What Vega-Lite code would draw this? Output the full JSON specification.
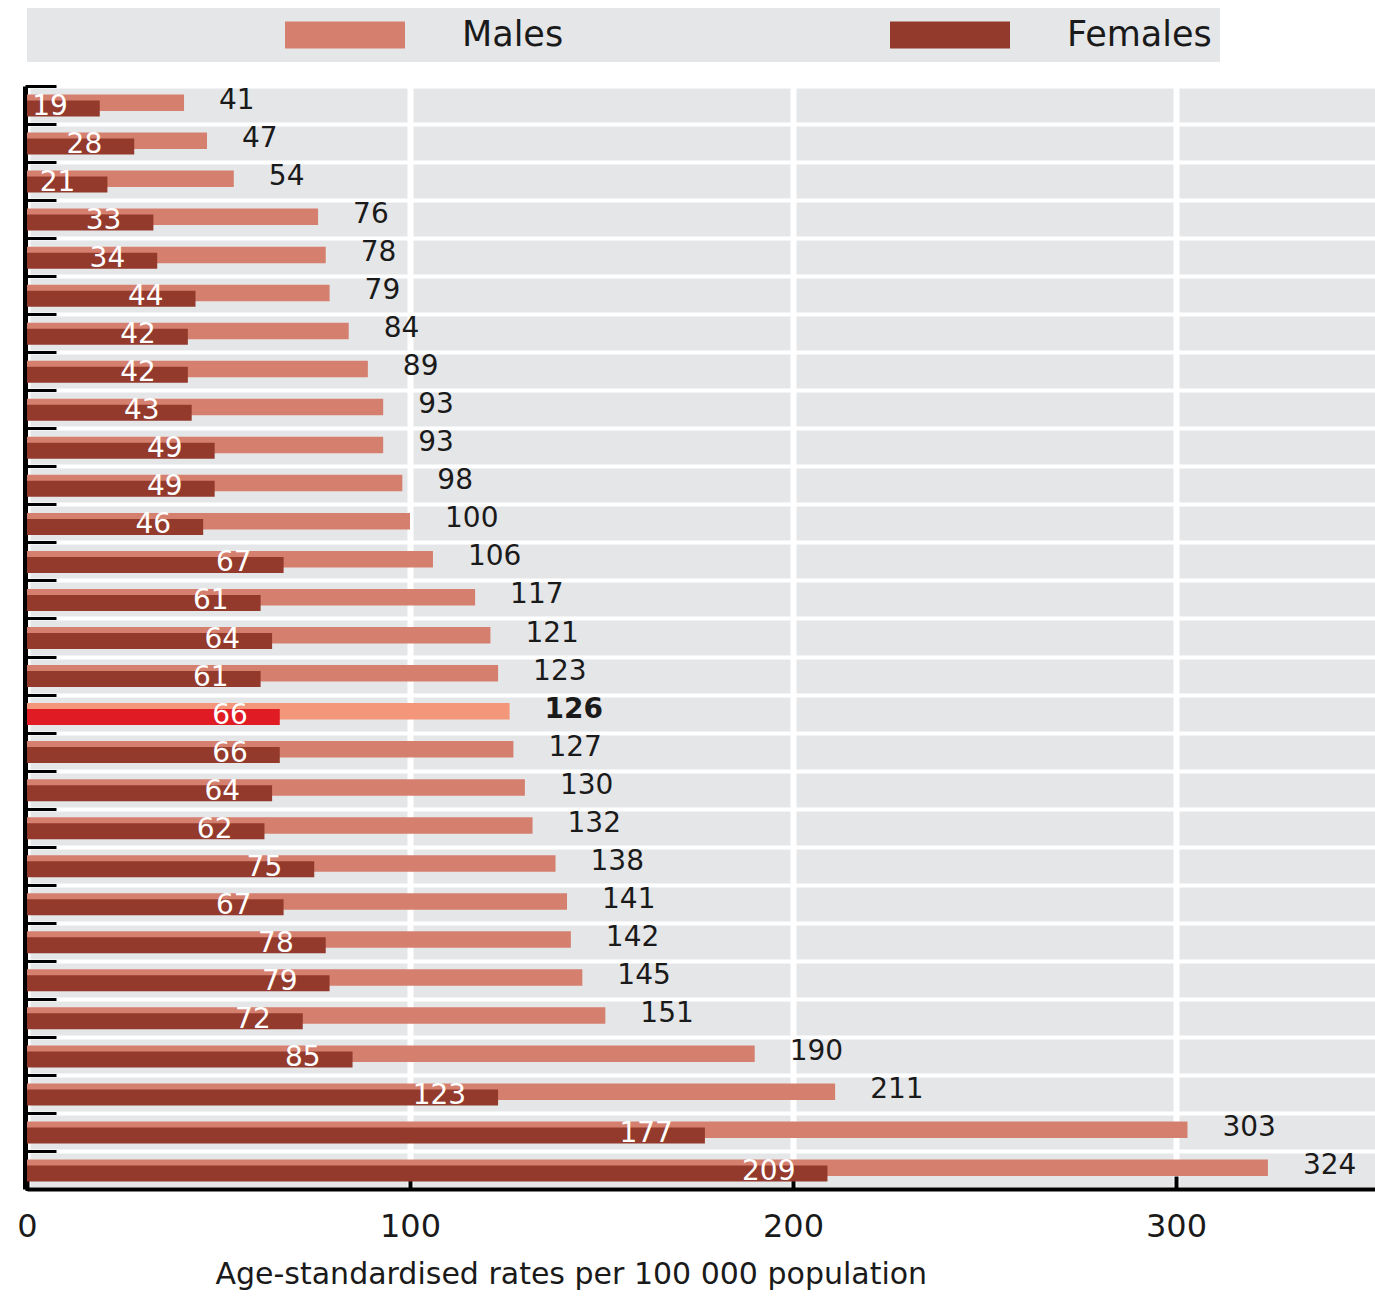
{
  "$schema": "https://vega.github.io/schema/vega-lite/v6.json",
  "width": 1348,
  "height": 1103,
  "autosize": {"type": "none"},
  "padding": {"left": 27, "top": 86, "right": 0, "bottom": 109},
  "background": "white",
  "config": {"view": {"stroke": null, "fill": "#e5e6e8"}, "font": "DejaVu Sans"},
  "data": {
    "values": [
      {"id": "01", "Males": 41, "Females": 19, "hl": false},
      {"id": "02", "Males": 47, "Females": 28, "hl": false},
      {"id": "03", "Males": 54, "Females": 21, "hl": false},
      {"id": "04", "Males": 76, "Females": 33, "hl": false},
      {"id": "05", "Males": 78, "Females": 34, "hl": false},
      {"id": "06", "Males": 79, "Females": 44, "hl": false},
      {"id": "07", "Males": 84, "Females": 42, "hl": false},
      {"id": "08", "Males": 89, "Females": 42, "hl": false},
      {"id": "09", "Males": 93, "Females": 43, "hl": false},
      {"id": "10", "Males": 93, "Females": 49, "hl": false},
      {"id": "11", "Males": 98, "Females": 49, "hl": false},
      {"id": "12", "Males": 100, "Females": 46, "hl": false},
      {"id": "13", "Males": 106, "Females": 67, "hl": false},
      {"id": "14", "Males": 117, "Females": 61, "hl": false},
      {"id": "15", "Males": 121, "Females": 64, "hl": false},
      {"id": "16", "Males": 123, "Females": 61, "hl": false},
      {"id": "17", "Males": 126, "Females": 66, "hl": true},
      {"id": "18", "Males": 127, "Females": 66, "hl": false},
      {"id": "19", "Males": 130, "Females": 64, "hl": false},
      {"id": "20", "Males": 132, "Females": 62, "hl": false},
      {"id": "21", "Males": 138, "Females": 75, "hl": false},
      {"id": "22", "Males": 141, "Females": 67, "hl": false},
      {"id": "23", "Males": 142, "Females": 78, "hl": false},
      {"id": "24", "Males": 145, "Females": 79, "hl": false},
      {"id": "25", "Males": 151, "Females": 72, "hl": false},
      {"id": "26", "Males": 190, "Females": 85, "hl": false},
      {"id": "27", "Males": 211, "Females": 123, "hl": false},
      {"id": "28", "Males": 303, "Females": 177, "hl": false},
      {"id": "29", "Males": 324, "Females": 209, "hl": false}
    ]
  },
  "transform": [{"fold": ["Males", "Females"], "as": ["sex", "rate"]}],
  "encoding": {
    "y": {
      "field": "id",
      "type": "nominal",
      "scale": {"paddingInner": 0, "paddingOuter": 0},
      "axis": {
        "title": null,
        "labels": false,
        "tickBand": "extent",
        "grid": true,
        "gridColor": "white",
        "gridWidth": 4,
        "tickColor": "black",
        "tickWidth": 3,
        "tickSize": -31,
        "domainColor": "black",
        "domainWidth": 5,
        "offset": 2
      }
    },
    "x": {
      "field": "rate",
      "type": "quantitative",
      "scale": {"domain": [0, 351.96], "nice": false, "zero": true},
      "axis": {
        "values": [0, 100, 200, 300],
        "grid": true,
        "gridColor": "white",
        "gridWidth": 6,
        "domainColor": "black",
        "domainWidth": 4,
        "tickColor": "black",
        "tickWidth": 4,
        "tickSize": -13,
        "labelFontSize": 32,
        "labelColor": "#1a1a1a",
        "labelBaseline": "alphabetic",
        "labelPadding": 60,
        "labelFlush": false,
        "title": "Age-standardised rates per 100 000 population",
        "titleFontSize": 30,
        "titleFontWeight": "normal",
        "titleColor": "#1a1a1a",
        "titleX": 188,
        "titleY": 94,
        "titleAlign": "left",
        "titleAnchor": "start",
        "titleBaseline": "alphabetic"
      }
    }
  },
  "layer": [
    {
      "transform": [{"filter": "datum.sex == 'Males'"}],
      "mark": {"type": "bar", "size": 16.5, "yOffset": -2.25},
      "encoding": {
        "color": {
          "condition": {"test": "datum.hl", "value": "#f4967a"},
          "field": "sex",
          "type": "nominal",
          "scale": {"domain": ["Males", "Females"], "range": ["#d5806f", "#933a2d"]},
          "legend": {
            "orient": "none",
            "legendX": 0,
            "legendY": -78,
            "direction": "horizontal",
            "title": null,
            "fillColor": "#e5e6e8",
            "padding": 8,
            "symbolType": "M-1,-0.225H1V0.225H-1Z",
            "symbolSize": 14400,
            "symbolStrokeWidth": 0,
            "symbolOpacity": 1,
            "symbolOffset": 250,
            "labelOffset": 57,
            "columnPadding": 76,
            "clipHeight": 38,
            "labelFontSize": 35,
            "labelColor": "#1a1a1a",
            "labelLimit": 600,
            "labelExpr": "datum.label == 'Females' ? datum.label + '\u00a0\u00a0\u00a0\u00a0\u00a0\u00a0\u00a0\u00a0\u00a0\u00a0\u00a0\u00a0\u00a0' : datum.label"
          }
        }
      }
    },
    {
      "transform": [{"filter": "datum.sex == 'Females'"}],
      "mark": {"type": "bar", "size": 16, "yOffset": 3.5},
      "encoding": {
        "color": {
          "condition": {"test": "datum.hl", "value": "#e01b24"},
          "field": "sex",
          "type": "nominal"
        }
      }
    },
    {
      "transform": [{"filter": "datum.sex == 'Males' && !datum.hl"}],
      "mark": {"type": "text", "align": "left", "baseline": "middle", "dx": 35, "dy": -4, "fontSize": 28, "color": "#1a1a1a"},
      "encoding": {"text": {"field": "rate", "type": "quantitative"}}
    },
    {
      "transform": [{"filter": "datum.sex == 'Males' && datum.hl"}],
      "mark": {"type": "text", "align": "left", "baseline": "middle", "dx": 35, "dy": -4, "fontSize": 28, "fontWeight": "bold", "color": "#1a1a1a"},
      "encoding": {"text": {"field": "rate", "type": "quantitative"}}
    },
    {
      "transform": [{"filter": "datum.sex == 'Females'"}],
      "mark": {"type": "text", "align": "right", "baseline": "middle", "dx": -32, "dy": 2, "fontSize": 28, "color": "white"},
      "encoding": {"text": {"field": "rate", "type": "quantitative"}}
    }
  ]
}
